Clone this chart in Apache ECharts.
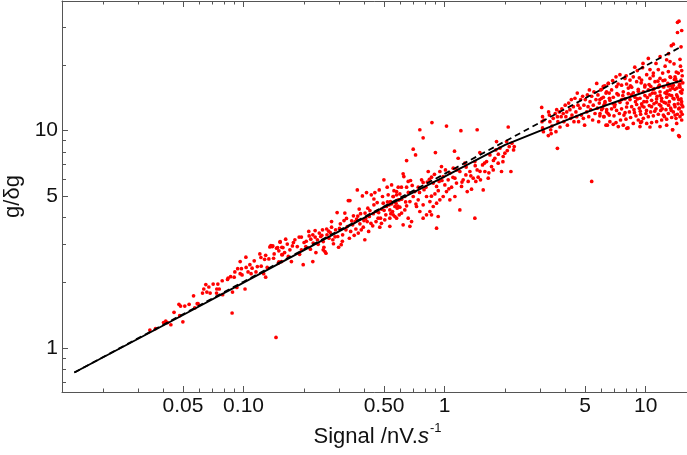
<!DOCTYPE html>
<html>
<head>
<meta charset="utf-8">
<title>g/δg vs signal</title>
<script src="https://cdn.jsdelivr.net/npm/echarts@6/dist/echarts.min.js"></script>
<style>
html, body { margin: 0; padding: 0; background: #fff; }
#main { width: 687px; height: 455px; }
</style>
</head>
<body>
<div id="main"></div>
<script>
// plot range
var xRange = [0.0125, 17.2];
var yRange = [0.628, 39.5];

// ticks and labels
var xMajor = [0.05, 0.1, 0.5, 1, 5, 10];
var xMajorLabels = ['0.05', '0.10', '0.50', '1', '5', '10'];
var xMinor = [0.02, 0.03, 0.04, 0.06, 0.07, 0.08, 0.09, 0.2, 0.3, 0.4, 0.6, 0.7, 0.8, 0.9, 2, 3, 4, 6, 7, 8, 9];
var yMajor = [1, 5, 10];
var yMajorLabels = ['1', '5', '10'];
var yMinor = [0.7, 0.8, 0.9, 2, 3, 4, 6, 7, 8, 9, 20, 30];

// fitted curve (solid)
var fitX = [0.0144, 0.05, 0.1, 0.3, 0.5, 1, 2, 3, 5, 8, 12, 15.1];
var fitY = [0.772, 1.42, 2.0, 3.45, 4.45, 6.15, 8.6, 10.0, 12.1, 14.1, 16.0, 17.0];
// power law (dashed)
var powX = [0.0144, 0.1, 1, 6.2, 15.1];
var powY = [0.772, 2.02, 6.33, 15.7, 24.4];

// measured points, by signal range
var lowSignal = [
  [0.0342,1.21],[0.0365,1.23],[0.040,1.31],[0.041,1.33],[0.0418,1.31],[0.0435,1.28],[0.0451,1.46],[0.0481,1.41],
  [0.0499,1.32],[0.0477,1.59],[0.0486,1.56],[0.051,1.56],[0.0536,1.59],[0.0564,1.74],[0.0572,1.53],[0.0588,1.60],
  [0.0594,1.60],[0.0625,1.79],[0.0634,1.87],[0.0649,1.96],[0.0657,1.81],[0.0672,1.91],[0.0682,1.79],[0.0706,1.97],
  [0.0736,1.87],[0.0745,1.97],[0.0734,1.79],[0.0757,1.87],[0.0783,2.04],[0.0787,1.76],[0.0832,2.07],[0.0838,2.10],
  [0.0862,2.13],[0.0898,2.12],[0.0926,1.90],[0.0881,1.81],[0.0877,1.45],[0.0905,2.24],[0.0935,2.32],[0.0962,2.20],
  [0.0976,2.32],[0.0983,2.17],[0.0962,2.50],[0.1027,2.62],[0.1017,1.87],[0.103,2.35],[0.1053,2.24],[0.1075,2.42],
  [0.109,2.20],[0.1103,2.33],[0.113,2.52],[0.1153,2.24],[0.1171,2.37],[0.1205,2.71],[0.122,2.61],[0.1224,2.38],
  [0.1259,2.20],[0.1288,2.12],[0.1273,2.56],[0.1288,2.67],[0.1311,2.35],[0.1336,2.57],[0.1367,2.96],[0.1351,2.92],
  [0.1398,2.95],[0.142,2.71],[0.1477,2.90],[0.1519,3.07],[0.1498,2.80],[0.1498,2.49],[0.1545,2.50],[0.145,1.12],
  [0.157,2.90],[0.155,2.69]
];
var midSignal = [
  [0.139,2.93],[0.146,2.88],[0.152,3.09],[0.155,2.91],[0.162,3.17],[0.165,3.01],[0.170,2.83],[0.177,3.06],
  [0.180,3.15],[0.185,2.93],[0.189,3.24],[0.194,3.24],[0.194,2.83],[0.200,3.06],[0.204,2.93],[0.211,3.44],
  [0.212,3.28],[0.216,3.17],[0.221,3.32],[0.222,3.04],[0.227,3.47],[0.227,3.24],[0.233,3.15],[0.238,3.38],
  [0.242,3.26],[0.247,3.50],[0.249,3.09],[0.251,2.91],[0.254,2.78],[0.259,3.53],[0.260,3.32],[0.266,3.20],
  [0.270,3.40],[0.274,3.82],[0.274,3.60],[0.278,3.15],[0.280,3.02],[0.287,3.50],[0.292,4.20],[0.294,3.26],
  [0.297,2.91],[0.303,3.73],[0.306,2.99],[0.311,3.32],[0.316,3.86],[0.319,4.18],[0.323,3.50],[0.328,3.62],
  [0.332,4.77],[0.338,4.77],[0.336,3.20],[0.341,3.44],[0.349,3.69],[0.352,4.06],[0.359,3.82],[0.362,3.53],
  [0.365,3.92],[0.368,5.34],[0.372,3.38],[0.376,4.36],[0.379,3.73],[0.382,4.15],[0.390,5.01],[0.394,3.60],
  [0.397,3.86],[0.401,3.15],[0.402,4.18],[0.409,5.19],[0.412,3.82],[0.419,3.44],[0.422,4.03],[0.425,4.29],
  [0.432,5.07],[0.439,3.65],[0.442,4.15],[0.445,4.56],[0.450,5.19],[0.456,3.82],[0.459,4.25],[0.462,4.67],
  [0.467,3.96],[0.473,5.34],[0.476,3.60],[0.480,3.96],[0.486,4.36],[0.491,4.98],[0.495,4.64],[0.499,5.94],
  [0.504,3.89],[0.510,4.10],[0.514,4.48],[0.518,5.50],[0.524,5.07],[0.530,4.56],[0.534,3.96],[0.538,4.72],
  [0.545,5.63],[0.551,4.25],[0.555,4.98],[0.566,4.03],[0.573,4.64],[0.577,5.07],[0.581,4.40],[0.588,5.50],
  [0.595,4.81],[0.595,4.10],[0.141,2.59],[0.149,2.46],[0.156,2.69],[0.167,2.64],[0.173,2.50],[0.198,2.42],
  [0.221,2.50],[0.229,2.75],[0.249,2.83],[0.257,2.73],
  [0.16,2.75],[0.175,2.95],[0.19,2.70],[0.205,3.10],[0.215,2.85],[0.235,3.00],[0.245,3.30],[0.265,3.45],
  [0.285,3.25],[0.30,3.55],[0.31,3.10],[0.325,3.95],[0.345,3.85],[0.355,3.30],[0.37,4.05],[0.385,3.50],
  [0.405,3.95],[0.415,4.40],[0.43,3.75],[0.445,4.85],[0.47,4.20],[0.485,3.75],[0.50,4.30],[0.52,4.70],
  [0.54,4.15],[0.56,5.30],[0.585,4.50],
  [0.865,10.9],[1.022,10.5],[0.753,10.1],[0.782,9.27],[1.205,10.0],[1.452,10.1],[2.072,10.4],[0.698,8.22],
  [0.717,7.74],[0.647,7.29],[0.900,7.93],[1.12,8.05],
  [0.622,6.33],[0.627,6.15],[0.659,5.84],[0.677,5.90],[0.647,5.50],[0.577,5.25],[0.599,5.12],[0.555,4.98],
  [0.588,4.81],[0.611,4.84],[0.634,4.98],[0.545,4.61],[0.566,4.48],[0.599,4.45],[0.647,4.51],[0.672,4.72],
  [0.698,4.98],[0.711,5.25],[0.739,5.50],[0.768,5.94],[0.782,5.78],[0.807,5.50],[0.829,6.49],[0.840,5.98],
  [0.861,6.11],[0.878,5.74],[0.813,4.98],[0.845,4.72],[0.895,5.12],[0.912,5.54],[0.939,5.84],[0.947,6.49],
  [0.965,6.84],[0.984,6.15],[1.003,5.63],[1.022,5.25],[1.042,5.94],[1.062,6.38],[1.083,5.50],[1.104,6.72],
  [1.125,6.05],[1.146,5.74],[1.168,7.47],[1.191,6.49],[1.214,5.54],[1.237,5.94],[1.261,7.09],[1.276,6.26],
  [1.296,5.25],[1.31,5.84],[1.336,6.49],[1.361,5.38],[1.388,6.05],[1.414,7.21],[1.43,5.84],[1.452,6.60],
  [1.469,6.11],[1.497,7.93],[1.508,5.94],[1.544,6.96],[1.556,5.34],[1.586,6.49],[1.617,7.21],[1.648,6.05],
  [1.68,7.74],[1.712,6.84],[1.745,6.60],[1.778,7.47],[1.798,8.16],[1.813,8.91],[1.847,7.09],[1.883,8.31],
  [1.919,6.49],[1.956,7.61],[1.994,7.88],[2.033,8.91],[2.096,8.45],[2.137,6.49],[2.161,8.76],[2.203,8.16],
  [2.22,8.45],
  [0.534,4.32],[0.555,4.10],[0.577,3.96],[0.611,4.18],[0.634,4.32],[0.659,3.96],[0.685,3.82],[0.725,4.48],
  [0.753,4.25],[0.782,3.96],[0.813,4.10],[0.845,4.25],[0.878,4.48],[0.912,4.64],[0.929,4.03],[0.947,4.81],
  [0.984,4.98],[1.062,4.81],[1.125,4.98],[1.191,4.32],[1.414,3.96],[0.912,3.56],[0.622,3.69],[0.672,3.63],
  [0.534,3.63],[0.782,4.56],[0.739,4.81],[0.861,4.10],
  [0.61,5.50],[0.64,4.70],[0.66,5.20],[0.69,5.60],[0.72,4.60],[0.75,5.20],[0.79,5.35],[0.82,5.80],
  [0.86,5.00],[0.89,6.30],[0.93,5.30],[0.97,5.90],[1.01,6.60],[1.05,5.40],[1.10,6.10],[1.15,6.60],
  [1.22,5.80],[1.28,6.80],[1.35,6.20],[1.42,6.90],[1.50,6.50],[1.58,7.10],[1.66,6.40],[1.75,7.30],
  [1.85,7.80],[1.95,7.20],[2.05,8.10]
];
var highSignal = [
  [3.04,12.8],[3.07,11.6],[3.05,11.0],[3.07,10.3],[3.10,9.9],[3.12,11.2],[3.29,12.2],[3.32,11.8],
  [3.34,11.0],[3.37,10.1],[3.39,9.7],[3.42,10.5],[3.47,11.4],[3.55,12.0],[3.58,9.9],[3.61,12.5],
  [3.64,11.6],[3.66,11.0],[3.72,12.2],[3.75,10.4],[3.80,11.6],[3.83,12.6],[3.89,12.0],[3.92,11.0],
  [3.98,13.1],[4.01,11.6],[4.05,12.2],[4.08,10.6],[4.14,13.4],[4.20,12.5],[4.24,11.4],[4.27,13.9],
  [4.30,11.8],[4.37,12.9],[4.40,11.0],[4.45,14.1],[4.50,12.2],[4.54,11.6],[4.57,14.9],[4.61,13.1],
  [4.64,11.0],[4.71,12.7],[4.75,13.9],[4.79,11.8],[4.86,14.4],[4.90,11.4],[4.93,13.1],[4.97,10.6],
  [5.01,13.9],[5.09,12.2],[5.13,14.6],[5.17,12.9],[5.21,11.6],[5.25,15.4],[5.29,13.6],[5.33,12.5],
  [5.39,14.4],[5.45,11.2],[5.49,13.1],[5.53,15.1],[5.60,12.0],[5.66,13.9],[5.71,16.5],[5.75,12.7],
  [5.79,14.6],[5.84,11.0],[5.88,13.4],[5.93,12.0],[5.97,15.4],[6.04,14.1],[6.11,12.7],[6.16,16.0],
  [6.20,11.6],[6.28,13.6],[6.35,14.9],[6.40,12.5],[6.45,10.6],[6.52,16.5],[6.60,14.1],[3.64,8.3],
  [5.39,5.84],[3.28,9.5]
];
var topSignal = [
  [14.65,31.9],[14.4,31.5],[15.11,28.9],[14.4,28.3],[13.73,25.0],[13.42,24.6],[15.0,24.3],[10.31,21.5],
  [11.26,20.4],[9.66,19.5],[9.09,18.9],[10.51,19.1],[12.72,21.2],[13.22,20.8],[13.84,20.3],[14.82,21.3],
  [15.11,18.9],[14.54,18.4],[14.0,17.7],[12.97,18.7],[12.15,18.4],[11.56,19.1],[10.92,18.4],[10.12,18.1],
  [8.68,17.7],[8.36,17.1],[7.89,17.4],[7.45,18.1],[7.12,17.7],[6.85,17.0],[6.52,16.5],[6.27,16.1],
  [6.04,15.5],[6.39,15.1],[6.77,15.4],[7.17,15.96],[7.59,16.2],[8.04,16.4],[8.52,15.85],[9.02,16.8],
  [9.55,17.1],[9.92,16.2],[10.51,17.4],[11.13,16.8],[11.79,17.4],[12.48,17.1],[13.22,17.7],[14.27,16.8],
  [15.0,17.1],[14.71,16.2],[13.73,16.2],[12.97,16.05],[12.25,15.96],[11.56,15.85],[10.92,15.5],[10.31,15.4],
  [9.74,15.1],[9.19,15.5],[8.68,14.95],[8.20,14.8],[7.74,15.1],[7.31,14.6],[6.90,14.25],[6.59,14.9],
  [6.16,14.25],[5.92,13.9],[6.27,13.4],[6.64,13.8],[7.04,13.2],[7.45,13.5],[7.89,14.0],[8.36,13.9],
  [8.85,14.25],[9.37,14.1],[9.92,14.5],[10.51,14.6],[11.13,14.9],[11.79,15.1],[12.48,14.95],[13.22,15.4],
  [14.0,15.5],[14.82,15.85],[15.11,14.9],[14.27,14.6],[13.47,14.5],[12.72,14.25],[12.01,14.1],[11.34,14.0],
  [10.71,13.8],[10.12,13.6],[9.55,13.3],[9.02,13.2],[8.52,12.9],[8.04,12.85],[7.59,12.6],[7.17,12.4],
  [6.77,12.6],[6.39,12.2],[6.04,12.5],[5.92,11.7],[6.2,11.6],[6.59,11.8],[6.96,11.7],[7.4,12.0],
  [7.8,11.8],[8.3,12.2],[8.75,12.5],[9.3,12.7],[9.81,12.85],[10.43,13.05],[11.0,13.3],[11.7,13.2],
  [12.35,13.5],[13.12,13.6],[13.84,14.0],[14.6,13.9],[15.11,13.2],[14.71,12.7],[14.0,12.9],[13.32,12.7],
  [12.62,12.5],[11.88,12.4],[11.26,12.6],[10.59,12.2],[10.04,12.0],[9.44,11.9],[8.95,11.7],[8.42,11.5],
  [7.98,11.3],[7.5,11.2],[7.12,10.9],[6.64,11.0],[6.35,10.6],[6.9,10.7],[8.17,10.3],[8.68,10.8],
  [9.19,11.2],[9.74,11.4],[10.31,11.6],[10.92,11.7],[11.56,11.9],[12.25,11.8],[12.97,12.0],[13.73,12.2],
  [14.38,11.9],[15.0,12.2],[14.82,11.6],[14.16,11.4],[13.47,11.5],[12.72,11.3],[12.01,11.2],[11.34,11.0],
  [10.71,10.9],[10.12,10.8],[9.44,10.9],[13.63,10.1],[14.71,9.4],[15.11,11.2],[14.27,10.8],[12.72,10.6],
  [11.79,10.45],[10.51,10.4],[9.37,10.45],[7.74,10.6],[7.31,10.45],[8.83,19.6],[9.7,20.4],[11.8,21.9],
  [12.5,19.8],[13.0,22.6],[13.6,10.1],[14.6,9.5],[8.06,10.25],[9.55,11.0],
  [8.5,14.6],[8.9,13.6],[9.2,15.2],[9.6,13.0],[9.9,15.9],[10.2,14.2],[10.4,16.3],[10.7,12.9],
  [11.0,15.6],[11.3,13.5],[11.5,16.9],[11.8,14.5],[12.1,12.6],[12.3,15.9],[12.6,13.4],[12.9,16.5],
  [13.1,14.6],[13.4,12.4],[13.6,15.7],[13.9,13.2],[14.1,17.3],[14.4,14.3],[14.6,12.6],[14.8,16.4],
  [15.0,14.0],[15.2,15.4],[15.3,12.9],[7.6,13.9],[7.9,12.1],[8.2,15.7],[9.4,12.3],[10.8,14.9],
  [11.9,13.0],[12.8,15.2],[13.3,17.6],[14.2,18.6],[14.9,19.8],[15.2,17.9],[6.9,13.3],[7.2,14.8],
  [6.5,12.0],[6.2,13.1],
  [7.0,12.9],[7.3,16.4],[7.7,14.5],[8.1,13.4],[8.4,16.1],[8.8,12.1],[9.1,14.0],[9.5,16.6],
  [9.8,13.6],[10.1,12.4],[10.6,16.0],[11.1,12.3],[11.4,14.4],[11.7,16.2],[12.0,13.7],[12.4,11.6],
  [12.7,14.8],[13.0,13.1],[13.3,16.1],[13.7,14.1],[14.0,11.8],[14.3,15.7],[14.5,13.3],[14.9,15.1],
  [15.1,13.6],[15.3,16.6],[15.2,11.9],[13.9,17.2],[12.2,17.0],[10.9,17.9],[9.3,17.5],[8.0,17.9]
];

var font = "'Liberation Sans', Arial, sans-serif";
var frameColor = '#555';

function pickLabel(values, labels) {
  return function (v) {
    for (var i = 0; i < values.length; i++) {
      if (Math.abs(v / values[i] - 1) < 1e-6) return labels[i];
    }
    return '';
  };
}

function zip(xs, ys) {
  return xs.map(function (x, i) { return [x, ys[i]]; });
}

// one log axis per side and tick length
function logAxis(range, position, ticks, len, line, labels) {
  var axis = {
    type: 'log',
    logBase: 10,
    min: range[0],
    max: range[1],
    position: position,
    axisLine: { show: line, lineStyle: { color: frameColor, width: 1 } },
    axisTick: { show: true, inside: true, length: len, customValues: ticks, lineStyle: { color: frameColor, width: 1 } },
    axisLabel: { show: false },
    splitLine: { show: false },
    minorTick: { show: false },
    minorSplitLine: { show: false }
  };
  if (labels) {
    axis.axisLabel = {
      show: true,
      customValues: ticks,
      formatter: pickLabel(ticks, labels),
      fontSize: 21,
      fontFamily: font,
      color: '#111',
      margin: 4
    };
  }
  return axis;
}

var xMain = logAxis(xRange, 'bottom', xMajor, 6, true, xMajorLabels);
xMain.name = '{a|Signal /nV.}{i|s}{sup|-1}';
xMain.nameLocation = 'middle';
xMain.nameGap = 32;
xMain.nameTextStyle = {
  fontFamily: font,
  color: '#111',
  rich: {
    a: { fontSize: 22, lineHeight: 24, fontFamily: font, color: '#111', verticalAlign: 'bottom' },
    i: { fontSize: 22, lineHeight: 24, fontFamily: font, color: '#111', fontStyle: 'italic', verticalAlign: 'bottom' },
    sup: { fontSize: 13, lineHeight: 13, fontFamily: font, color: '#111', padding: [0, 0, 13, 1], verticalAlign: 'bottom' }
  }
};

var yMain = logAxis(yRange, 'left', yMajor, 6, true, yMajorLabels);
yMain.name = 'g/δg';
yMain.nameLocation = 'middle';
yMain.nameGap = 36;
yMain.nameTextStyle = { fontFamily: font, fontSize: 22, color: '#111' };

var myChart = echarts.init(document.getElementById('main'), null, { renderer: 'canvas' });
var option = {
  backgroundColor: '#fff',
  animation: false,
  grid: { left: 62, top: 1, width: 631, height: 391, containLabel: false, outerBoundsMode: 'none' },
  xAxis: [
    xMain,
    logAxis(xRange, 'bottom', xMinor, 3.5, false),
    logAxis(xRange, 'top', xMajor, 6, true),
    logAxis(xRange, 'top', xMinor, 3.5, false)
  ],
  yAxis: [
    yMain,
    logAxis(yRange, 'left', yMinor, 4, false)
  ],
  series: [
    {
      type: 'scatter',
      xAxisIndex: 0,
      yAxisIndex: 0,
      data: lowSignal.concat(midSignal, highSignal, topSignal),
      symbol: 'circle',
      symbolSize: 3.7,
      itemStyle: { color: '#ff0000', opacity: 1 },
      silent: true,
      z: 2
    },
    {
      type: 'line',
      xAxisIndex: 0,
      yAxisIndex: 0,
      data: zip(fitX, fitY),
      symbol: 'none',
      lineStyle: { color: '#000', width: 1.9 },
      silent: true,
      z: 3
    },
    {
      type: 'line',
      xAxisIndex: 0,
      yAxisIndex: 0,
      data: zip(powX, powY),
      symbol: 'none',
      lineStyle: { color: '#000', width: 1.8, type: [6, 4] },
      silent: true,
      z: 4
    }
  ]
};
myChart.setOption(option);
</script>
</body>
</html>
